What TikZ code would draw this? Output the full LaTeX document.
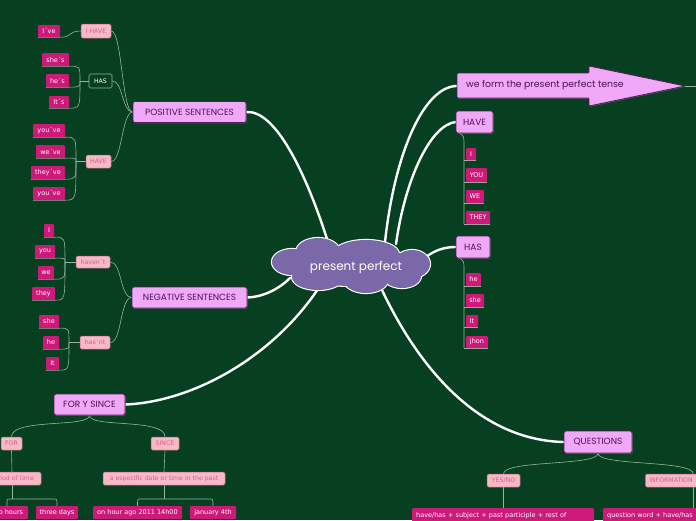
\documentclass[tikz,border=0pt]{standalone}
\usepackage{fontspec}
\setmainfont{DejaVu Sans}
\newfontfamily\titlefont{Poppins}
\usetikzlibrary{shadows}
\pgfdeclarelayer{background}
\pgfsetlayers{background,main}
\definecolor{bg}{RGB}{6,64,32}
\definecolor{topicfill}{RGB}{240,168,248}
\definecolor{topicdraw}{RGB}{90,25,90}
\definecolor{topictext}{RGB}{75,20,85}
\definecolor{subfill}{RGB}{245,185,200}
\definecolor{subdraw}{RGB}{190,100,125}
\definecolor{subtext}{RGB}{215,95,135}
\definecolor{leaffill}{RGB}{205,25,120}
\definecolor{conn}{RGB}{150,180,160}
\definecolor{cloudfill}{RGB}{123,104,168}
\begin{document}
\begin{tikzpicture}[x=1pt,y=-1pt,
  topic/.style={draw=topicdraw, line width=0.8pt, fill=topicfill, rounded corners=2pt, inner sep=0pt,
    text=topictext, font=\titlefont\fontsize{9}{10}\selectfont,
    drop shadow={shadow xshift=0.8pt, shadow yshift=-0.8pt, opacity=0.5}},
  sub/.style={draw=subdraw, line width=0.5pt, fill=subfill, rounded corners=1.5pt, inner sep=0pt,
    text=subtext, font=\fontsize{6.2}{7}\selectfont},
  hasbox/.style={draw=conn, line width=0.6pt, fill=bg, rounded corners=1.5pt, inner sep=0pt,
    text=white, font=\fontsize{6.2}{7}\selectfont},
  leaf/.style={fill=leaffill, rounded corners=1pt, inner sep=0pt, text=white, font=\fontsize{6.5}{7.5}\selectfont},
  thin/.style={draw=conn, line width=0.6pt},
  thick/.style={draw=white, line width=2.4pt, line cap=round},
  puff/.style={}]
\useasboundingbox (0,0) rectangle (696,520);

% central cloud (drawn shape: outline pass, then fill pass)
\foreach \pass in {0,1}{
  \ifnum\pass=0 \tikzset{puff/.style={draw=white, line width=2.2pt}}\else \tikzset{puff/.style={fill=cloudfill}}\fi
  \path[puff] (292,262) ellipse [x radius=20, y radius=13];
  \path[puff] (318,252) ellipse [x radius=22, y radius=14];
  \path[puff] (366,254) ellipse [x radius=33, y radius=14];
  \path[puff] (412,264) ellipse [x radius=18, y radius=14];
  \path[puff] (318,277) ellipse [x radius=26, y radius=13];
  \path[puff] (366,280) ellipse [x radius=22, y radius=13];
  \path[puff] (402,276) ellipse [x radius=19, y radius=12];
  \path[puff] (352,266) ellipse [x radius=62, y radius=20];
}
\node[inner sep=0pt, text=white, font=\titlefont\fontsize{12}{13}\selectfont] (center) at (356,267) {present perfect};

% positive
\node[topic, minimum width=113pt, minimum height=21pt] (pos) at (189.5,112) {POSITIVE SENTENCES};
\node[sub, minimum width=30pt, minimum height=14pt] (ihave) at (96,31) {I HAVE};
\node[leaf, minimum width=22pt, minimum height=12pt] (ive) at (49,31) {I´ve};
\node[hasbox, minimum width=23pt, minimum height=14pt] (hasL) at (100.5,81) {HAS};
\node[leaf, minimum width=27pt, minimum height=13pt] (shes) at (55.5,59.5) {she´s};
\node[leaf, minimum width=23pt, minimum height=13pt] (hes) at (57.5,80.5) {he´s};
\node[leaf, minimum width=20pt, minimum height=12pt] (its) at (59,102) {It´s};
\node[sub, minimum width=25pt, minimum height=13pt] (haveL) at (98.5,161.5) {HAVE};
\node[leaf, minimum width=32pt, minimum height=13pt] (youve1) at (49,130.5) {you´ve};
\node[leaf, minimum width=29pt, minimum height=13pt] (weve) at (50.5,151.5) {we´ve};
\node[leaf, minimum width=34pt, minimum height=13pt] (theyve) at (48,172.5) {they´ve};
\node[leaf, minimum width=32pt, minimum height=13pt] (youve2) at (49,193.5) {you´ve};

% negative
\node[topic, minimum width=115pt, minimum height=21pt] (neg) at (189.5,297.5) {NEGATIVE SENTENCES};
\node[sub, minimum width=34pt, minimum height=12pt] (havent) at (93,262) {haven´t};
\node[leaf, minimum width=10pt, minimum height=13pt] (nI) at (49,230.5) {I};
\node[leaf, minimum width=20pt, minimum height=13pt] (nyou) at (45,251.5) {you};
\node[leaf, minimum width=16pt, minimum height=13pt] (nwe) at (46,272.5) {we};
\node[leaf, minimum width=23pt, minimum height=13pt] (nthey) at (43.5,293.5) {they};
\node[sub, minimum width=30pt, minimum height=13pt] (hasnt) at (95,342.5) {has´nt};
\node[leaf, minimum width=20pt, minimum height=13pt] (nshe) at (49,321.5) {she};
\node[leaf, minimum width=16pt, minimum height=13pt] (nhe) at (51,342.5) {he};
\node[leaf, minimum width=13pt, minimum height=13pt] (nit) at (52.5,363.5) {It};

% for y since
\node[topic, minimum width=71pt, minimum height=21pt] (fys) at (89.5,404.5) {FOR Y SINCE};
\node[sub, minimum width=21pt, minimum height=13pt] (for) at (11.5,443.5) {FOR};
\node[sub, minimum width=28pt, minimum height=13pt] (since) at (165,443.5) {SINCE};
\node[sub, minimum width=58pt, minimum height=13pt] (period) at (12,478.5) {period of time};
\node[sub, minimum width=122pt, minimum height=13pt] (especific) at (164,478.5) {a especific date or time in the past};
\node[leaf, minimum width=42pt, minimum height=13pt] (twohours) at (7,512.5) {two hours};
\node[leaf, minimum width=42pt, minimum height=13pt] (threedays) at (57,512.5) {three days};
\node[leaf, minimum width=89pt, minimum height=13pt] (onhour) at (137.5,512.5) {on hour ago 2011 14h00};
\node[leaf, minimum width=46pt, minimum height=13pt] (jan) at (213,512.5) {january 4th};

% arrow "we form"
\coordinate (formw) at (457,86);
\coordinate (formtip) at (685,86);
\coordinate (formend) at (696,86);
\filldraw[draw=topicdraw, line width=0.8pt, fill=topicfill, rounded corners=1pt,
  drop shadow={shadow xshift=0.8pt, shadow yshift=-0.8pt, opacity=0.5}]
  (457,73) -- (589,73) -- (589,66) -- (formtip) -- (589,106) -- (589,98) -- (457,98) -- cycle;
\node[text=topictext, font=\titlefont\fontsize{9.3}{10}\selectfont, inner sep=0pt, anchor=west] (form) at (466,85) {we form the present perfect tense};

% right side
\node[topic, minimum width=37pt, minimum height=22pt] (have) at (474.5,122) {HAVE};
\node[leaf, minimum width=10pt, minimum height=12pt] (rI) at (471,154) {I};
\node[leaf, minimum width=21pt, minimum height=14pt] (ryou) at (476.5,175) {YOU};
\node[leaf, minimum width=18pt, minimum height=13pt] (rwe) at (475,196.5) {WE};
\node[leaf, minimum width=24pt, minimum height=13pt] (rthey) at (478,217.5) {THEY};
\node[topic, minimum width=34pt, minimum height=22pt] (has) at (473,247) {HAS};
\node[leaf, minimum width=15pt, minimum height=13pt] (rhe) at (473.5,279.5) {he};
\node[leaf, minimum width=18pt, minimum height=13pt] (rshe) at (475,300.5) {she};
\node[leaf, minimum width=12pt, minimum height=12pt] (rit) at (472,321) {It};
\node[leaf, minimum width=22pt, minimum height=12pt] (rjhon) at (477,342) {jhon};

% questions
\node[topic, minimum width=68pt, minimum height=22pt] (questions) at (598,442) {QUESTIONS};
\node[sub, minimum width=33pt, minimum height=13pt] (yesno) at (503.5,480.5) {YES/NO};
\node[sub, minimum width=96pt, minimum height=13pt, anchor=west] (info) at (645,480.5) {\makebox[88pt][l]{INFORMATION}};
\node[leaf, anchor=north west, minimum width=182pt, inner xsep=4pt, inner ysep=4pt, align=left, text width=174pt] (yesbox) at (412,508) {have/has + subject + past participle + rest of};
\node[leaf, anchor=north west, minimum width=120pt, inner xsep=4pt, inner ysep=4pt, align=left, text width=112pt] (infobox) at (603,508) {question word + have/has};

% cloud attach points
\coordinate (cpos) at (328,242);
\coordinate (cform) at (385,242);
\coordinate (chave) at (396,244);
\coordinate (chas) at (426,257);
\coordinate (cneg) at (290,278);
\coordinate (cfys) at (318,289);
\coordinate (cq) at (382,290);

\begin{pgfonlayer}{background}
\fill[bg] (0,0) rectangle (696,520);
% thick main connectors
\draw[thick] (pos.east) .. controls (275,110) and (305,170) .. (cpos);
\draw[thick] (neg.east) .. controls (262,297) and (278,290) .. (cneg);
\draw[thick] (fys.east) .. controls (190,402) and (270,360) .. (cfys);
\draw[thick] (formw) .. controls (425,86) and (395,150) .. (cform);
\draw[thick] (have.west) .. controls (430,125) and (405,180) .. (chave);
\draw[thick] (has.west) .. controls (445,247) and (435,250) .. (chas);
\draw[thick] (questions.west) .. controls (480,440) and (420,370) .. (cq);
\draw[thin] (formtip) -- (formend);

% positive children
\draw[thin] (pos.west) .. controls (122,112) and (122,31) .. (ihave.east);
\draw[thin] (pos.west) .. controls (122,112) and (123,81) .. (hasL.east);
\draw[thin] (pos.west) .. controls (122,112) and (122,161.5) .. (haveL.east);
\draw[thin] (ihave.west) .. controls (68,31) and (72,37.5) .. (ive.south east) -- (ive.south west);
\coordinate (fkhas) at (80,81);
\draw[thin] (hasL.west) -- (fkhas);
\draw[thin] (fkhas) .. controls (80,66) .. (shes.south east) -- (shes.south west);
\draw[thin] (fkhas) .. controls (80,87) .. (hes.south east) -- (hes.south west);
\draw[thin] (fkhas) .. controls (80,108) .. (its.south east) -- (its.south west);
\coordinate (fkhave) at (76,161.5);
\draw[thin] (haveL.west) -- (fkhave);
\draw[thin] (fkhave) .. controls (76,137) .. (youve1.south east) -- (youve1.south west);
\draw[thin] (fkhave) .. controls (76,158) .. (weve.south east) -- (weve.south west);
\draw[thin] (fkhave) .. controls (76,179) .. (theyve.south east) -- (theyve.south west);
\draw[thin] (fkhave) .. controls (76,200) .. (youve2.south east) -- (youve2.south west);

% negative children
\draw[thin] (neg.west) .. controls (120,297.5) and (122,262) .. (havent.east);
\draw[thin] (neg.west) .. controls (120,297.5) and (122,342.5) .. (hasnt.east);
\coordinate (fkhavent) at (65,262);
\draw[thin] (havent.west) -- (fkhavent);
\draw[thin] (fkhavent) .. controls (65,237) .. (nI.south east) -- (nI.south west);
\draw[thin] (fkhavent) .. controls (65,258) .. (nyou.south east) -- (nyou.south west);
\draw[thin] (fkhavent) .. controls (65,279) .. (nwe.south east) -- (nwe.south west);
\draw[thin] (fkhavent) .. controls (65,300) .. (nthey.south east) -- (nthey.south west);
\coordinate (fkhasnt) at (69,342.5);
\draw[thin] (hasnt.west) -- (fkhasnt);
\draw[thin] (fkhasnt) .. controls (69,328) .. (nshe.south east) -- (nshe.south west);
\draw[thin] (fkhasnt) .. controls (69,349) .. (nhe.south east) -- (nhe.south west);
\draw[thin] (fkhasnt) .. controls (69,370) .. (nit.south east) -- (nit.south west);

% for y since children
\draw[thin] (fys.south) .. controls (89.5,428) and (11.5,418) .. (for.north);
\draw[thin] (fys.south) .. controls (89.5,428) and (165,418) .. (since.north);
\draw[thin] (for.south) -- (period.north);
\draw[thin] (since.south) -- (especific.north);
\draw[thin] (period.south) -- (12,499);
\draw[thin] (twohours.north) -- (7,501) .. controls (7,499) .. (10,499) -- (52,499) .. controls (57,499) .. (57,502) -- (threedays.north);
\draw[thin] (especific.south) -- (164,499);
\draw[thin] (onhour.north) -- (137.5,502) .. controls (137.5,499) .. (142,499) -- (208,499) .. controls (213,499) .. (213,502) -- (jan.north);

% right children
\coordinate (sphave) at (464,146);
\draw[thin] (459,133) .. controls (464,136) .. (sphave) -- (sphave |- rthey.south);
\foreach \n in {rI,ryou,rwe,rthey} \draw[thin] (sphave |- \n.south) -- (\n.south east);
\coordinate (sphas) at (464,270);
\draw[thin] (459,258) .. controls (464,261) .. (sphas) -- (sphas |- rjhon.south);
\foreach \n in {rhe,rshe,rit,rjhon} \draw[thin] (sphas |- \n.south) -- (\n.south east);

% questions children
\draw[thin] (questions.south) .. controls (598,466) and (503.5,460) .. (yesno.north);
\draw[thin] (questions.south) .. controls (598,466) and (693,460) .. (info.north);
\draw[thin] (yesno.south) -- (yesno.south |- yesbox.north);
\draw[thin] (info.south) -- (info.south |- infobox.north);
\end{pgfonlayer}
\end{tikzpicture}
\end{document}
